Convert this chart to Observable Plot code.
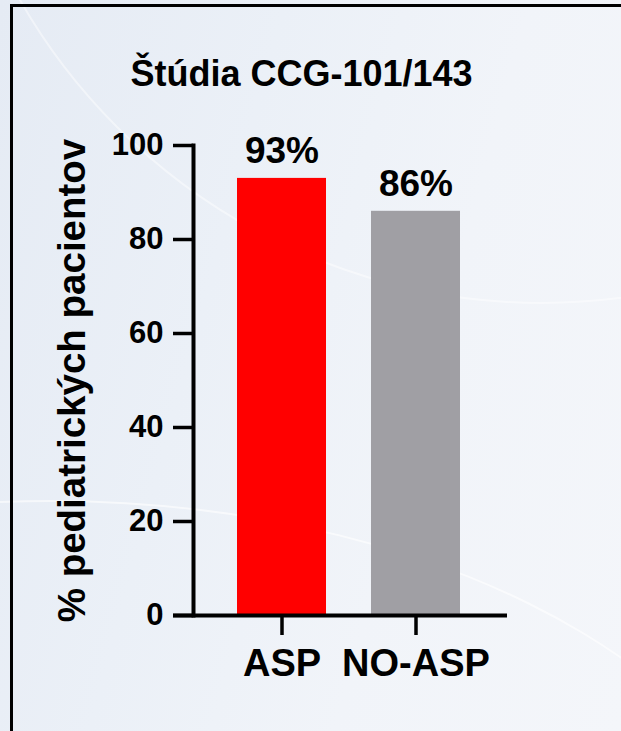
<!DOCTYPE html>
<html>
<head>
<meta charset="utf-8">
<script src="https://cdn.jsdelivr.net/npm/d3@7"></script>
<script src="https://cdn.jsdelivr.net/npm/@observablehq/plot@0.6"></script>
<style>
  html, body { margin: 0; padding: 0; }
  body { width: 621px; height: 731px; overflow: hidden; }
  #wrap {
    position: relative; width: 621px; height: 731px; overflow: hidden;
    background: linear-gradient(105deg, #e5ebf4 0%, #ebf0f7 35%, #f1f4f9 65%, #f4f6fa 100%);
    font-family: "Liberation Sans", Arial, sans-serif;
  }
  #frameBox {
    position: absolute; left: 10px; top: 4px; width: 700px; height: 800px;
    border-left: 3px solid #000; border-top: 3px solid #000; box-sizing: border-box;
  }
  .arc { position: absolute; border-radius: 50%; border: 2px solid rgba(255,255,255,0.55); }
  #title {
    position: absolute; left: 0; width: 603px; top: 56px; text-align: center;
    font-size: 36px; line-height: 36px; font-weight: bold; color: #000;
  }
  #chart { position: absolute; left: 0; top: 0; }
</style>
</head>
<body>
<div id="wrap">
  <div class="arc" style="left:-60px; top:-900px; width:1200px; height:1200px; border-color: rgba(255,255,255,0.45);"></div>
  <div class="arc" style="left:-700px; top:500px; width:1500px; height:900px; border-color: rgba(255,255,255,0.6);"></div>
  <div id="frameBox"></div>
  <div id="title">Štúdia CCG-101/143</div>
  <div id="chart"></div>
</div>
<script>
const categories = ["ASP", "NO-ASP"];
const values = [93, 86];
const valueLabels = ["93%", "86%"];
const barColors = ["#ff0000", "#a09fa4"];
const yTicks = [0, 20, 40, 60, 80, 100];
const yLabel = "% pediatrických pacientov";

const data = categories.map((c, i) => ({cat: c, value: values[i], label: valueLabels[i]}));

const font = "'Liberation Sans', Arial, sans-serif";

const chart = Plot.plot({
  width: 621,
  height: 731,
  marginLeft: 173,
  marginRight: 114,
  marginTop: 145,
  marginBottom: 116,
  style: {background: "transparent", color: "#000", fontFamily: font, overflow: "visible"},
  x: {domain: categories, paddingInner: 0.336, paddingOuter: 0.414, align: 0.577},
  y: {domain: [0, 100]},
  color: {domain: categories, range: barColors},
  marks: [
    Plot.barY(data, {x: "cat", y: "value", fill: "cat"}),
    Plot.frame({anchor: "left", dx: 20, strokeWidth: 4, stroke: "#000"}),
    Plot.ruleY([0], {strokeWidth: 4, stroke: "#000"}),
    Plot.axisY({ticks: yTicks, tickSize: 20, dx: 20, tickPadding: 10, fontSize: 31, fontWeight: "bold", strokeWidth: 3.5, label: null}),
    Plot.axisX({tickSize: 20, tickPadding: 14, fontSize: 38, fontWeight: "bold", strokeWidth: 3.5, label: null}),
    Plot.text(data, {x: "cat", y: "value", text: "label", lineAnchor: "bottom", dy: -15, fontSize: 37, fontWeight: "bold", fill: "#000"}),
    Plot.text([yLabel], {frameAnchor: "left", textAnchor: "middle", rotate: -90, dx: -89, lineAnchor: "bottom", fontSize: 38.5, fontWeight: "bold", fill: "#000"})
  ]
});
document.getElementById("chart").appendChild(chart);
</script>
</body>
</html>
